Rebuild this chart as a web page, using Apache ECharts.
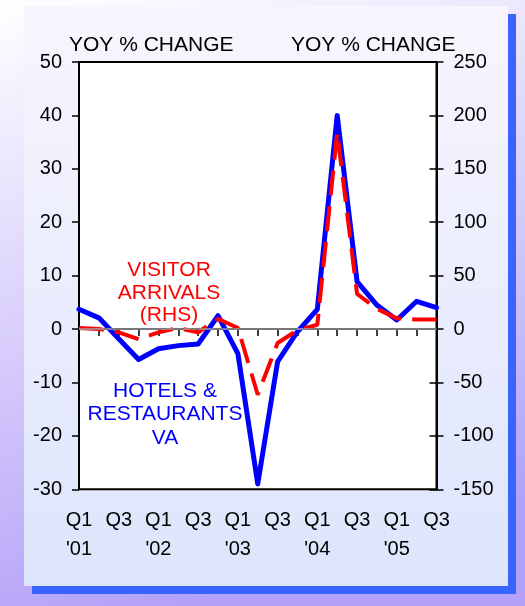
<!DOCTYPE html>
<html>
<head>
<meta charset="utf-8">
<script src="https://cdn.jsdelivr.net/npm/echarts@6/dist/echarts.min.js"></script>
<style>
html,body{margin:0;padding:0;}
#chart{width:525px;height:606px;}
</style>
</head>
<body>
<div id="chart"></div>
<script>
// quarters Q1 '01 .. Q3 '05
var quarters = ["Q1\n'01", 'Q2', 'Q3', 'Q4', "Q1\n'02", 'Q2', 'Q3', 'Q4', "Q1\n'03", 'Q2', 'Q3', 'Q4',
    "Q1\n'04", 'Q2', 'Q3', 'Q4', "Q1\n'05", 'Q2', 'Q3'];
// hotels & restaurants VA, yoy % (lhs)
var hotelsVA = [3.7, 2.1, -1.8, -5.7, -3.7, -3.1, -2.8, 2.5, -4.6, -29, -6.1, -0.5, 3.7, 40, 8.9, 4.5, 1.7, 5.2, 4.0];
// visitor arrivals, yoy % (rhs)
var arrivals = [1, 0, -3, -9.5, -3, 1, -3, 9.5, 1, -61.5, -13, -1, 4, 184, 33, 19, 10, 9, 9];

var font = 'Liberation Sans, Arial, sans-serif';

var chart = echarts.init(document.getElementById('chart'));

var option = {
    animation: false,
    graphic: [
        {type: 'rect', z: -10, shape: {x: 0, y: 0, width: 525, height: 606},
            style: {fill: new echarts.graphic.LinearGradient(0, 0, 0.35, 1, [
                {offset: 0, color: '#ffffff'}, {offset: 1, color: '#b4a0f8'}])}},
        {type: 'rect', z: -9, shape: {x: 32, y: 14, width: 484, height: 580}, style: {fill: '#3a64ff'}},
        {type: 'rect', z: -8, shape: {x: 24, y: 6, width: 484, height: 580},
            style: {fill: new echarts.graphic.LinearGradient(0, 0, 0, 1, [
                {offset: 0, color: '#f9f5fe'}, {offset: 1, color: '#dce5fc'}])}},
        {type: 'text', z: 100, left: 69, top: 35,
            style: {text: 'YOY % CHANGE', fontSize: 21, fontFamily: font, fill: '#000'}},
        {type: 'text', z: 100, left: 291, top: 35,
            style: {text: 'YOY % CHANGE', fontSize: 21, fontFamily: font, fill: '#000'}},
        {type: 'text', z: 100, x: 169, y: 259,
            style: {text: 'VISITOR\nARRIVALS\n(RHS)', fontSize: 21, lineHeight: 22.5, fontFamily: font,
                fill: '#ff0000', align: 'center'}},
        {type: 'text', z: 100, x: 165, y: 379,
            style: {text: 'HOTELS &\nRESTAURANTS\nVA', fontSize: 21, lineHeight: 23.5, fontFamily: font,
                fill: '#0000ff', align: 'center'}}
    ],
    grid: {left: 79, right: 88.5, top: 62, bottom: 116.7, show: true,
        backgroundColor: '#ffffff', borderColor: '#000', borderWidth: 2},
    xAxis: {
        type: 'category', data: quarters, boundaryGap: false,
        axisLine: {lineStyle: {color: '#000', width: 2}},
        axisTick: {interval: 0, length: 7, lineStyle: {color: '#000', width: 1.5}},
        axisLabel: {interval: 1, color: '#000', fontSize: 20, lineHeight: 29, margin: 17, fontFamily: font},
        splitLine: {show: false}
    },
    yAxis: [
        {type: 'value', min: -30, max: 50, interval: 10, position: 'left',
            axisLine: {show: true, lineStyle: {color: '#000', width: 2}},
            axisTick: {show: true, length: 7, lineStyle: {color: '#000', width: 1.5}},
            axisLabel: {color: '#000', fontSize: 20, margin: 17, fontFamily: font},
            splitLine: {show: false}},
        {type: 'value', min: -150, max: 250, interval: 50, position: 'right',
            axisLine: {show: true, lineStyle: {color: '#000', width: 2}},
            axisTick: {show: true, length: 7, lineStyle: {color: '#000', width: 1.5}},
            axisLabel: {color: '#000', fontSize: 20, margin: 17, fontFamily: font},
            splitLine: {show: false}},
        {type: 'value', min: -150, max: 250, interval: 50, position: 'right',
            axisLine: {show: false},
            axisTick: {show: true, inside: true, length: 7, lineStyle: {color: '#000', width: 1.5}},
            axisLabel: {show: false},
            splitLine: {show: false}}
    ],
    series: [
        {name: 'Hotels & Restaurants VA', type: 'line', yAxisIndex: 0, data: hotelsVA,
            symbol: 'none', lineStyle: {color: '#0000ff', width: 5, cap: 'round', join: 'round'},
            markLine: {silent: true, symbol: 'none', label: {show: false},
                lineStyle: {color: '#a0a0a0', width: 1.5, type: 'solid'},
                data: [{yAxis: 0}]}},
        {name: 'Visitor Arrivals (RHS)', type: 'line', yAxisIndex: 1, data: arrivals,
            symbol: 'none', lineStyle: {color: '#ff0000', width: 4, type: [25, 11]}}
    ]
};
chart.setOption(option);
</script>
</body>
</html>
